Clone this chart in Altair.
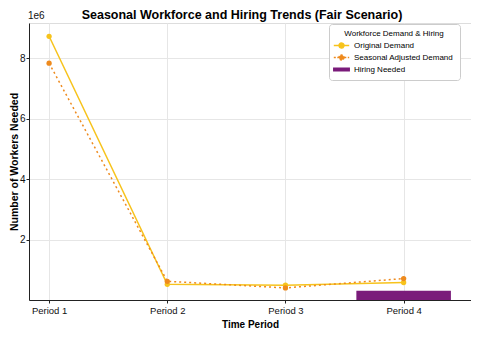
import json
import altair as alt
import pandas as pd

# ---- data ----
periods = ["Period 1", "Period 2", "Period 3", "Period 4"]
original_demand = [8730000, 520000, 490000, 580000]
adjusted_demand = [7840000, 620000, 400000, 710000]
hiring_needed = [0, 0, 0, 310000]

series_names = ["Original Demand", "Seasonal Adjusted Demand", "Hiring Needed"]
series_colors = ["#F7C31C", "#EE8A1D", "#7A1B7A"]
y_ticks = [2000000, 4000000, 6000000, 8000000]

FONT = "Liberation Sans"

rows = []
for i, p in enumerate(periods):
    rows.append({"idx": i, "period": p, "series": series_names[0], "value": original_demand[i]})
    rows.append({"idx": i, "period": p, "series": series_names[1], "value": adjusted_demand[i]})
lines_df = pd.DataFrame(rows)

bars_df = pd.DataFrame({"idx": list(range(len(periods))), "period": periods,
                        "series": series_names[2], "value": hiring_needed})
bars_df = bars_df[bars_df["value"] > 0]

x_scale = alt.Scale(domain=[-0.17, 3.57], nice=False, zero=False)
y_scale = alt.Scale(domain=[0, 9170000], nice=False)
color_scale = alt.Scale(domain=series_names, range=series_colors)

x_axis = alt.Axis(values=list(range(len(periods))),
                  labelExpr=json.dumps(periods) + "[datum.value]",
                  title="Time Period", grid=True, gridColor="#e6e6e6",
                  domainColor="#222222", tickColor="#222222", tickSize=3,
                  labelFontSize=9.5, labelPadding=2, labelColor="#111111",
                  titleFontSize=10, titleFontWeight="bold", titlePadding=5,
                  titleColor="#000000", labelFont=FONT, titleFont=FONT)
y_axis = alt.Axis(values=y_ticks, labelExpr="datum.value / 1000000",
                  title="Number of Workers Needed", grid=True, gridColor="#e6e6e6",
                  domainColor="#222222", tickColor="#222222", tickSize=3,
                  labelFontSize=10, labelPadding=1, labelColor="#111111",
                  titleFontSize=10.5, titleFontWeight="bold", titlePadding=0,
                  titleColor="#000000", labelFont=FONT, titleFont=FONT)

X = alt.X("idx:Q", scale=x_scale, axis=x_axis)
Y = alt.Y("value:Q", scale=y_scale, axis=y_axis)

shape_expr = ("datum.value === 'Hiring Needed' ? 'M-1.4,-0.23H1.4V0.23H-1.4Z' : "
              "'M-1.4,0H1.4M0.45,0A0.45,0.45,0,1,1,-0.45,0A0.45,0.45,0,1,1,0.45,0Z'")
dash_expr = "datum.value === 'Seasonal Adjusted Demand' ? [2, 1.5] : [1, 0]"

legend = alt.Legend(title="Workforce Demand & Hiring", orient="none",
                    legendX=300, legendY=1,
                    titleFontSize=8, titleFontWeight="normal", titleColor="#000000",
                    labelFontSize=8, labelColor="#000000",
                    titleFont=FONT, labelFont=FONT,
                    symbolType={"expr": shape_expr}, symbolDash={"expr": dash_expr},
                    symbolSize=121, symbolStrokeWidth=1.5,
                    fillColor="white", strokeColor="#cccccc", cornerRadius=3,
                    padding=6, rowPadding=0, titlePadding=1, labelOffset=6,
                    titleAnchor="middle")

C = alt.Color("series:N", scale=color_scale, legend=legend)

bars = alt.Chart(bars_df).transform_calculate(
    x0="datum.idx - 0.4", x1="datum.idx + 0.4"
).mark_rect().encode(
    x=alt.X("x0:Q", scale=x_scale, axis=x_axis),
    x2="x1:Q",
    y=Y,
    y2=alt.datum(0),
    color=C,
)

line_orig = alt.Chart(lines_df).transform_filter(
    alt.datum.series == series_names[0]
).mark_line(strokeWidth=1.5).encode(x=X, y=Y, color=C)

line_adj = alt.Chart(lines_df).transform_filter(
    alt.datum.series == series_names[1]
).mark_line(strokeWidth=1.5, strokeDash=[2, 3]).encode(x=X, y=Y, color=C)

points = alt.Chart(lines_df).mark_point(filled=True, size=28, opacity=1).encode(
    x=X, y=Y, color=C
)

exp_label = alt.Chart(pd.DataFrame({"t": ["1e6"]})).mark_text(
    align="left", baseline="middle", fontSize=10, font=FONT, color="#111111"
).encode(x=alt.value(-1), y=alt.value(-7), text="t:N")

chart = alt.layer(bars, line_orig, line_adj, points, exp_label).properties(
    width=442, height=277,
    title=alt.Title("Seasonal Workforce and Hiring Trends (Fair Scenario)",
                    fontSize=12.5, fontWeight="bold", font=FONT, color="#000000",
                    anchor="middle", frame="group", offset=-10, dx=-8),
    autosize=alt.AutoSizeParams(type="none"),
    padding={"left": 21, "top": 15, "right": 0, "bottom": 32},
).configure_view(stroke=None).configure(background="white")

chart.save("out.html", embed_options={"renderer": "svg", "actions": False})
